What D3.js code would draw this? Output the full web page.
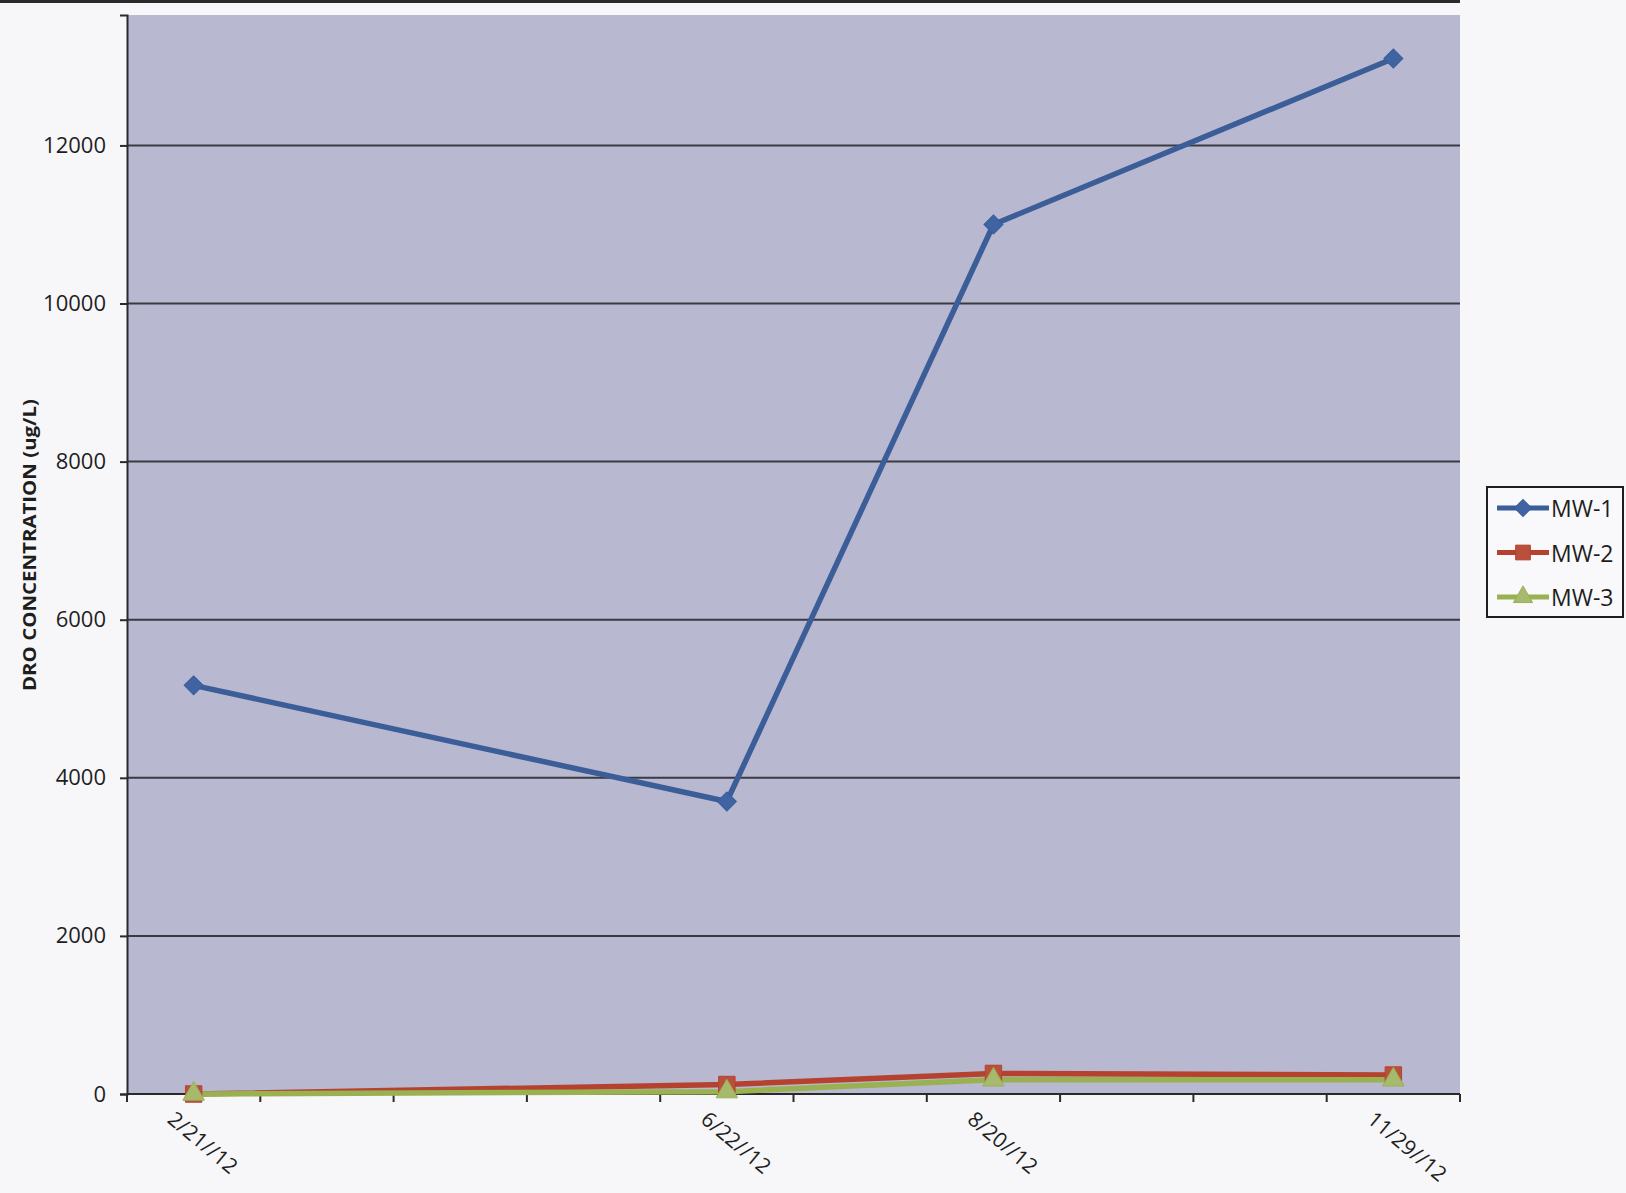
<!DOCTYPE html>
<html><head><meta charset="utf-8">
<script src="https://cdn.jsdelivr.net/npm/d3@7"></script>
<style>
body{margin:0;background:#f7f7f9;}
svg{display:block;}
text{font-family:"Open Sans","Liberation Sans",sans-serif;fill:#1e1e1e;}
</style></head><body>
<svg id="chart" width="1626" height="1193"></svg>
<script>
// ---- data ----
const months = ["2012-02","2012-03","2012-04","2012-05","2012-06","2012-07","2012-08","2012-09","2012-10","2012-11"];
const sampleMonths = ["2012-02","2012-06","2012-08","2012-11"];
const dateLabels = ["2/21//12","6/22//12","8/20//12","11/29//12"];
const seriesNames = ["MW-1","MW-2","MW-3"];
const mw1 = [5170, 3700, 11000, 13100];
const mw2 = [0, 120, 260, 240];
const mw3 = [0, 30, 180, 180];
const yTicks = [0, 2000, 4000, 6000, 8000, 10000, 12000];
const yMax = 13650;
const yTitle = "DRO CONCENTRATION (ug/L)";

(function () {
// ---- layout ----
const svg = d3.select("#chart");
const pLeft = 127, pRight = 1460, pTop = 15, pBottom = 1094;
const x = d3.scaleBand().domain(months).range([pLeft, pRight]).paddingInner(0).paddingOuter(0);
const y = d3.scaleLinear().domain([0, yMax]).range([pBottom, pTop]);
const cx = m => x(m) + x.bandwidth() / 2;

// scan edge line at top
svg.append("line").attr("x1", 0).attr("x2", 1460).attr("y1", 1.5).attr("y2", 1.5)
  .attr("stroke", "#2a2a2a").attr("stroke-width", 3);

// plot background
svg.append("rect").attr("x", pLeft).attr("y", y(yMax)).attr("width", pRight - pLeft).attr("height", y(0) - y(yMax))
  .attr("fill", "#b9b8d1");

// gridlines
svg.append("g").selectAll("line").data(yTicks.filter(d => d > 0)).join("line")
  .attr("x1", pLeft).attr("x2", pRight).attr("y1", d => y(d)).attr("y2", d => y(d))
  .attr("stroke", "#3a3a40").attr("stroke-width", 2);

// y axis
const yAxis = svg.append("g").attr("transform", `translate(${pLeft},0)`)
  .call(d3.axisLeft(y).tickValues(yTicks).tickSize(7).tickPadding(14).tickFormat(d3.format("d")));
yAxis.select(".domain").attr("stroke", "#2a2a2a").attr("stroke-width", 2);
yAxis.selectAll(".tick line").attr("stroke", "#2a2a2a").attr("stroke-width", 2);
yAxis.selectAll(".tick text").attr("font-size", 22).attr("font-family", "Open Sans").attr("fill", "#1e1e1e");

// x axis line and tick marks at month boundaries
svg.append("line").attr("x1", pLeft).attr("x2", pRight).attr("y1", y(0)).attr("y2", y(0))
  .attr("stroke", "#2a2a2a").attr("stroke-width", 2);
const boundaries = months.map(m => x(m)).concat([x.range()[1]]);
svg.append("g").selectAll("line").data(boundaries).join("line")
  .attr("x1", d => d).attr("x2", d => d).attr("y1", y(0)).attr("y2", y(0) + 8)
  .attr("stroke", "#2a2a2a").attr("stroke-width", 2);

// x labels
svg.append("g").selectAll("text").data(sampleMonths).join("text")
  .attr("transform", (m) => `translate(${cx(m) - 16},${y(0) + 14}) rotate(40)`)
  .attr("font-size", 21).attr("text-anchor", "start").attr("dominant-baseline", "hanging")
  .text((m, i) => dateLabels[i]);

// y title
svg.append("text").attr("transform", `translate(36,545) rotate(-90)`)
  .attr("text-anchor", "middle").attr("font-size", 18).attr("font-weight", "bold")
  .attr("textLength", 292).attr("lengthAdjust", "spacingAndGlyphs")
  .text(yTitle);

// series
const series = [
  {name: seriesNames[0], values: mw1, color: "#3b5d98", mfill: "#3f63a3", sym: d3.symbolSquare, size: 180, rot: 45},
  {name: seriesNames[1], values: mw2, color: "#b5422f", mfill: "#b8503c", sym: d3.symbolSquare, size: 270, rot: 0},
  {name: seriesNames[2], values: mw3, color: "#9ab152", mfill: "#a6b96c", sym: d3.symbolTriangle, size: 200, rot: 0}
];
const line = d3.line().x((d, i) => cx(sampleMonths[i])).y(d => y(d));
series.forEach(s => {
  svg.append("path").datum(s.values).attr("d", line)
    .attr("fill", "none").attr("stroke", s.color).attr("stroke-width", 5.5).attr("stroke-linejoin", "round");
});
series.forEach(s => {
  svg.append("g").selectAll("path").data(s.values).join("path")
    .attr("d", d3.symbol(s.sym, s.size))
    .attr("transform", (d, i) => `translate(${cx(sampleMonths[i])},${y(d)}) rotate(${s.rot})`)
    .attr("fill", s.mfill).attr("stroke", s.color).attr("stroke-width", 1);
});

// legend
const lg = svg.append("g");
lg.append("rect").attr("x", 1487).attr("y", 487).attr("width", 136).attr("height", 130)
  .attr("fill", "#f9f9fb").attr("stroke", "#1e1e1e").attr("stroke-width", 2);
const ly = d3.scalePoint().domain(seriesNames).range([508, 597]);
series.forEach(s => {
  const yy = ly(s.name);
  lg.append("line").attr("x1", 1497).attr("x2", 1549).attr("y1", yy).attr("y2", yy)
    .attr("stroke", s.color).attr("stroke-width", 5);
  lg.append("path").attr("d", d3.symbol(s.sym, s.size * 0.8))
    .attr("transform", `translate(1523,${yy}) rotate(${s.rot})`)
    .attr("fill", s.mfill).attr("stroke", s.color).attr("stroke-width", 1);
  lg.append("text").attr("x", 1551).attr("y", yy).attr("dominant-baseline", "central")
    .attr("font-size", 23).text(s.name);
});
})();
</script>
</body></html>
